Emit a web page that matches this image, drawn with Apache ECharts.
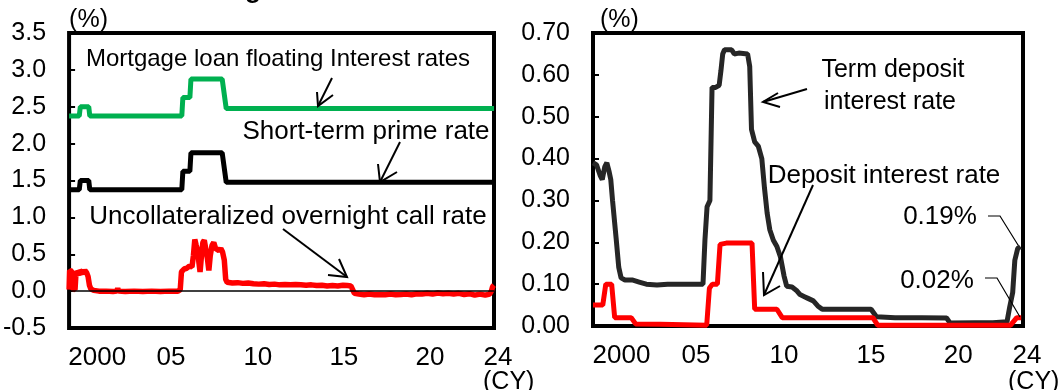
<!DOCTYPE html>
<html><head><meta charset="utf-8">
<script src="https://cdn.jsdelivr.net/npm/echarts@6/dist/echarts.min.js"></script>
<style>html,body{margin:0;padding:0;background:#fff}#c{width:1062px;height:390px}</style>
</head><body><div id="c"></div>
<script>
// ---- data (year as decimal, value in %) ----
const xLabelValues = [2001.6, 2005.8, 2010.75, 2015.65, 2020.55, 2024.2];
const xLabelTexts = ['2000', '05', '10', '15', '20', '24'];

const mortgageRate = [
  [2000.0, 2.375], [2000.58, 2.375], [2000.64, 2.5], [2001.12, 2.5], [2001.18, 2.375],
  [2006.42, 2.375], [2006.48, 2.625], [2006.88, 2.625], [2006.94, 2.875],
  [2008.72, 2.875], [2008.95, 2.475], [2024.2, 2.475]
];
const primeRate = [
  [2000.0, 1.375], [2000.58, 1.375], [2000.64, 1.5], [2001.12, 1.5], [2001.18, 1.375],
  [2006.42, 1.375], [2006.48, 1.625], [2006.88, 1.625], [2006.94, 1.875],
  [2008.72, 1.875], [2008.95, 1.475], [2024.2, 1.475]
];
const callRate = [
  [2000.00, 0.02], [2000.03, 0.28], [2000.09, 0.30], [2000.15, 0.27], [2000.20, 0.03],
  [2000.34, 0.02], [2000.40, 0.27], [2000.48, 0.29], [2000.55, 0.22], [2000.62, 0.28],
  [2000.72, 0.30], [2000.80, 0.24], [2000.90, 0.28], [2001.00, 0.25], [2001.08, 0.20],
  [2001.16, 0.08], [2001.24, 0.03], [2001.40, 0.01], [2001.70, 0.00], [2002.10, 0.00],
  [2002.50, -0.005], [2002.72, 0.00], [2002.77, 0.04], [2002.82, 0.00], [2003.20, -0.005],
  [2003.70, 0.00], [2004.20, -0.005], [2004.70, 0.00], [2005.20, -0.005], [2005.70, 0.00],
  [2006.20, 0.00], [2006.33, 0.02], [2006.40, 0.26], [2006.55, 0.30], [2006.70, 0.31],
  [2006.85, 0.34], [2007.00, 0.33], [2007.08, 0.48], [2007.16, 0.70], [2007.24, 0.62],
  [2007.32, 0.55], [2007.40, 0.38], [2007.46, 0.26], [2007.54, 0.48], [2007.62, 0.66],
  [2007.70, 0.69], [2007.78, 0.58], [2007.88, 0.44], [2007.96, 0.28], [2008.04, 0.48],
  [2008.14, 0.62], [2008.24, 0.66], [2008.34, 0.58], [2008.44, 0.60], [2008.54, 0.55],
  [2008.64, 0.58], [2008.74, 0.53], [2008.84, 0.42], [2008.92, 0.16], [2009.00, 0.12],
  [2009.3, 0.11], [2009.6, 0.115], [2009.9, 0.105], [2010.2, 0.11], [2010.5, 0.10],
  [2010.8, 0.095], [2011.1, 0.10], [2011.4, 0.09], [2011.7, 0.095], [2012.0, 0.085],
  [2012.3, 0.09], [2012.6, 0.085], [2012.9, 0.09], [2013.2, 0.085], [2013.5, 0.08],
  [2013.8, 0.085], [2014.1, 0.075], [2014.4, 0.08], [2014.7, 0.07], [2015.0, 0.075],
  [2015.3, 0.07], [2015.6, 0.08], [2015.85, 0.075], [2016.05, 0.07], [2016.15, 0.02],
  [2016.25, -0.03], [2016.5, -0.04], [2016.8, -0.05], [2017.1, -0.04], [2017.4, -0.05],
  [2017.7, -0.045], [2018.0, -0.05], [2018.3, -0.04], [2018.6, -0.05], [2018.9, -0.045],
  [2019.2, -0.04], [2019.5, -0.05], [2019.8, -0.035], [2020.1, -0.04], [2020.4, -0.03],
  [2020.7, -0.04], [2021.0, -0.025], [2021.3, -0.035], [2021.6, -0.03], [2021.9, -0.04],
  [2022.2, -0.03], [2022.5, -0.045], [2022.8, -0.035], [2023.1, -0.055], [2023.4, -0.04],
  [2023.7, -0.055], [2023.95, -0.04], [2024.05, 0.0], [2024.12, 0.06], [2024.2, 0.08]
];
const termDepositRate = [
  [2000.0, 0.39], [2000.2, 0.385], [2000.4, 0.36], [2000.52, 0.35], [2000.66, 0.38],
  [2000.78, 0.39], [2000.9, 0.37], [2001.0, 0.35], [2001.1, 0.30], [2001.3, 0.21],
  [2001.45, 0.14], [2001.58, 0.115], [2001.8, 0.11], [2002.2, 0.11], [2002.6, 0.105],
  [2003.0, 0.10], [2003.6, 0.098], [2004.2, 0.10], [2004.8, 0.10], [2005.4, 0.10],
  [2006.19, 0.10], [2006.3, 0.205], [2006.42, 0.285], [2006.58, 0.30], [2006.7, 0.57],
  [2006.9, 0.57], [2007.1, 0.575], [2007.2, 0.61], [2007.3, 0.65], [2007.4, 0.66],
  [2007.8, 0.66], [2007.95, 0.65], [2008.2, 0.652], [2008.7, 0.65], [2008.82, 0.62],
  [2008.92, 0.47], [2009.1, 0.44], [2009.3, 0.43], [2009.5, 0.40], [2009.65, 0.33],
  [2009.8, 0.27], [2009.95, 0.23], [2010.15, 0.205], [2010.35, 0.19], [2010.55, 0.165],
  [2010.75, 0.12], [2010.9, 0.095], [2011.2, 0.093], [2011.45, 0.085], [2011.65, 0.075],
  [2011.9, 0.07], [2012.1, 0.066], [2012.4, 0.06], [2012.65, 0.048], [2012.9, 0.04],
  [2013.5, 0.04], [2014.5, 0.04], [2015.65, 0.04], [2015.95, 0.022], [2017.0, 0.02],
  [2018.5, 0.02], [2019.9, 0.019], [2020.1, 0.007], [2021.5, 0.008], [2022.5, 0.008],
  [2023.3, 0.01], [2023.45, 0.045], [2023.62, 0.08], [2023.74, 0.157], [2023.9, 0.185],
  [2024.05, 0.19]
];
const depositRate = [
  [2000.0, 0.05], [2000.55, 0.05], [2000.72, 0.10], [2001.05, 0.10], [2001.22, 0.02],
  [2002.15, 0.02], [2002.4, 0.005], [2003.8, 0.004], [2006.4, 0.002], [2006.55, 0.09],
  [2006.72, 0.10], [2007.0, 0.10], [2007.15, 0.195], [2007.5, 0.198], [2008.95, 0.198],
  [2009.1, 0.04], [2010.35, 0.04], [2010.65, 0.02], [2015.75, 0.02], [2016.02, 0.002],
  [2023.5, 0.002], [2023.85, 0.02], [2024.1, 0.02]
];

// ---- chart ----
const FONT = 'Liberation Sans, Arial, sans-serif';
const chart = echarts.init(document.getElementById('c'), null, {renderer: 'canvas'});

function xAxisFor(gi) {
  return {
    gridIndex: gi, type: 'value', min: 2000, max: 2024.2,
    axisLine: {show: false}, axisTick: {show: false}, splitLine: {show: false},
    axisLabel: {
      customValues: xLabelValues, color: '#000', fontSize: 26, fontFamily: FONT, margin: 17,
      formatter: function (v) {
        const i = xLabelValues.findIndex(function (p) { return Math.abs(p - v) < 1e-6; });
        if (i < 0) return '';
        return i === xLabelTexts.length - 1 ? '{s|' + xLabelTexts[i] + '}' : xLabelTexts[i];
      },
      rich: {s: {fontSize: 26, fontFamily: FONT, color: '#000', padding: [0, 0, 0, 8]}}
    }
  };
}
function yAxisFor(gi, min, max, interval, digits) {
  return {
    gridIndex: gi, type: 'value', min: min, max: max, interval: interval,
    axisLine: {show: false}, splitLine: {show: false},
    axisTick: {show: true, inside: true, length: 6, lineStyle: {color: '#000', width: 2}},
    axisLabel: {color: '#000', fontSize: 25, fontFamily: FONT, margin: 23,
      formatter: function (v) { return v.toFixed(digits); }},
    name: '(%)', nameLocation: 'end', nameGap: 13,
    nameTextStyle: {color: '#000', fontSize: 25, fontFamily: FONT, align: 'left', verticalAlign: 'middle',
      padding: gi === 0 ? 0 : [0, 0, 0, 7]}
  };
}
function lineSeries(name, data, color, xi, z, extra) {
  return Object.assign({
    name: name, type: 'line', xAxisIndex: xi, yAxisIndex: xi, data: data,
    showSymbol: false, symbol: 'none', z: z, animation: false,
    lineStyle: {color: color, width: 5}
  }, extra || {});
}
function t(text, x, y, size) {
  return {type: 'text', x: x, y: y, z: 100,
    style: {text: text, fontSize: size || 25, fontFamily: FONT, fill: '#000', align: 'center', verticalAlign: 'middle'}};
}
function pl(points, w) {
  return {type: 'polyline', z: 100, shape: {points: points}, style: {stroke: '#000', lineWidth: w || 2, fill: null}};
}

chart.setOption({
  animation: false,
  backgroundColor: '#fff',
  textStyle: {fontFamily: FONT},
  grid: [
    {left: 66, top: 33, width: 428, height: 295, show: true, borderColor: '#000', borderWidth: 4, backgroundColor: 'transparent'},
    {left: 593, top: 33, width: 430, height: 293, show: true, borderColor: '#000', borderWidth: 4, backgroundColor: 'transparent'}
  ],
  xAxis: [xAxisFor(0), xAxisFor(1)],
  yAxis: [yAxisFor(0, -0.5, 3.5, 0.5, 1), yAxisFor(1, 0, 0.7, 0.1, 2)],
  series: [
    lineSeries('Mortgage loan floating Interest rates', mortgageRate, '#00B050', 0, 2),
    lineSeries('Short-term prime rate', primeRate, '#000000', 0, 2, {
      markLine: {silent: true, symbol: 'none', label: {show: false},
        lineStyle: {color: '#000', width: 1.5, type: 'solid'}, data: [{yAxis: 0}]}
    }),
    lineSeries('Uncollateralized overnight call rate', callRate, '#FF0000', 0, 3, {lineStyle: {color: '#FF0000', width: 5.5}}),
    lineSeries('Term deposit interest rate', termDepositRate, '#262626', 1, 2),
    lineSeries('Deposit interest rate', depositRate, '#FF0000', 1, 3)
  ],
  graphic: [
    {type: 'text', x: 253, y: 4, z: 100, style: {text: 'g', fontSize: 26, fontWeight: 'bold', fontFamily: FONT, fill: '#000', align: 'center', verticalAlign: 'bottom'}},
    t('Mortgage loan floating Interest rates', 278, 59, 24),
    pl([[332, 78], [318, 106]]), pl([[317, 92], [318, 106], [333, 95]]),
    t('Short-term prime rate', 366, 132, 26),
    pl([[400, 142], [380, 182]]), pl([[378, 164], [380, 182], [397, 172]]),
    t('Uncollateralized overnight call rate', 288, 217, 26),
    pl([[283, 229], [347, 277]]), pl([[328, 275], [347, 277], [339, 259]]),
    {type: 'text', x: 483, y: 370, z: 100, style: {text: '(CY)', fontSize: 25, fontFamily: FONT, fill: '#000', align: 'left', verticalAlign: 'top'}},
    t('Term deposit', 893, 70),
    t('interest rate', 890, 102),
    pl([[807, 89], [763, 102]]), pl([[778, 93], [763, 102], [780, 107]]),
    t('Deposit interest rate', 884, 176, 26),
    pl([[813, 185], [764, 295]]), pl([[763, 272], [764, 295], [780, 286]]),
    t('0.19%', 940, 217, 26),
    pl([[988, 216], [1000, 216], [1018, 245]], 1.2),
    t('0.02%', 937, 281, 26),
    pl([[985, 278], [997, 278], [1020, 317]], 1.2),
    {type: 'text', x: 1008, y: 370, z: 100, style: {text: '(CY)', fontSize: 25, fontFamily: FONT, fill: '#000', align: 'left', verticalAlign: 'top'}}
  ]
});
</script>
</body></html>
